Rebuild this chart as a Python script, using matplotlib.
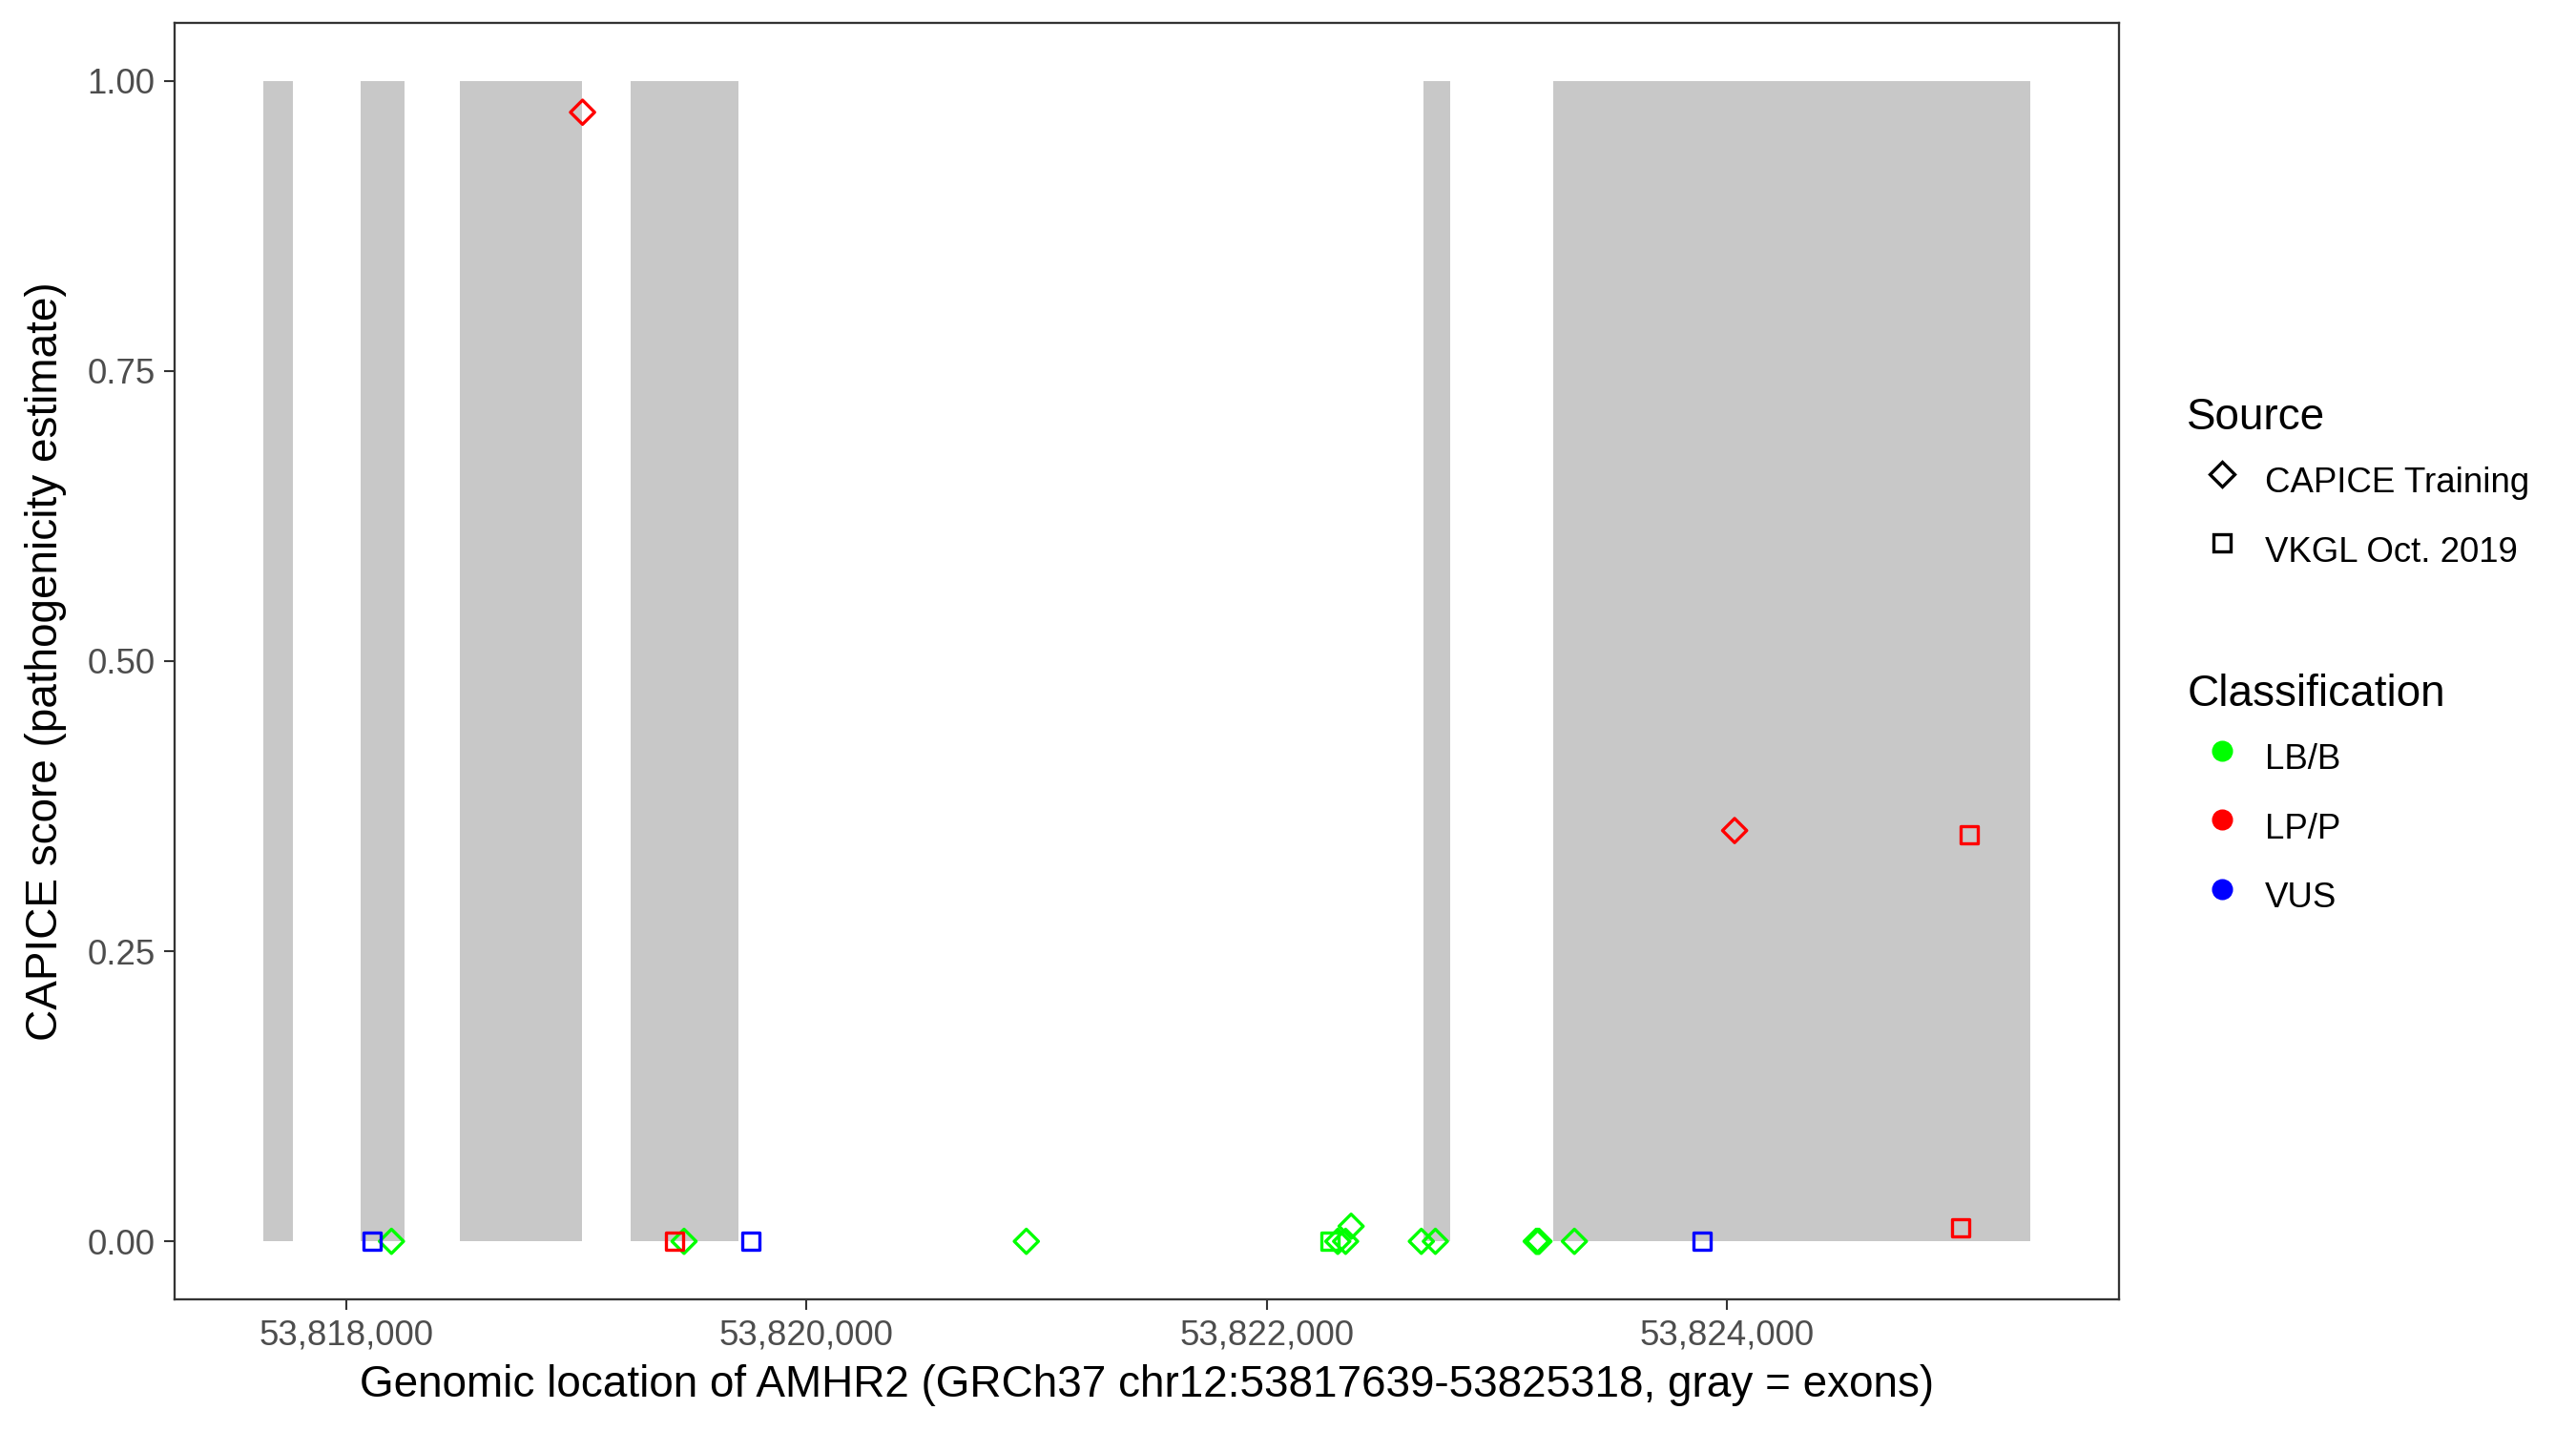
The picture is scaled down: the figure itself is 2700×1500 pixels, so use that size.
# CAPICE scores along AMHR2, exons in gray

import matplotlib.pyplot as plt
from matplotlib.lines import Line2D
from matplotlib.ticker import FuncFormatter

plt.rcParams['font.family'] = ['Liberation Sans', 'DejaVu Sans']

gene_start = 53817639
gene_end = 53825318

exon_start = [53817639, 53818061, 53818494, 53819238, 53822682, 53823243]
exon_end = [53817768, 53818254, 53819026, 53819706, 53822798, 53825318]

# CAPICE training variants (diamonds)
capice_pos = [53819027, 53818197, 53819468, 53820955, 53822308, 53822342, 53822366,
              53822671, 53822732, 53823170, 53823176, 53823182, 53823336, 53824032]
capice_score = [0.973, 0.0, 0.0, 0.0, 0.0, 0.0, 0.013,
                0.0, 0.0, 0.0, 0.0, 0.0, 0.0, 0.354]
capice_class = ['LP/P', 'LB/B', 'LB/B', 'LB/B', 'LB/B', 'LB/B', 'LB/B',
                'LB/B', 'LB/B', 'LB/B', 'LB/B', 'LB/B', 'LB/B', 'LP/P']

# VKGL Oct. 2019 variants (squares)
vkgl_pos = [53818113, 53819426, 53819758, 53822276, 53823891, 53825015, 53825050]
vkgl_score = [0.0, 0.0, 0.0, 0.0, 0.0, 0.012, 0.350]
vkgl_class = ['VUS', 'LP/P', 'VUS', 'LB/B', 'VUS', 'LP/P', 'LP/P']

class_colors = {'LB/B': '#00FF00', 'LP/P': '#FF0000', 'VUS': '#0000FF'}

fig = plt.figure(figsize=(9, 5), dpi=300)
ax = fig.add_axes([0.0678, 0.092, 0.8226 - 0.0678, 0.984 - 0.092])

widths = [e - s for s, e in zip(exon_start, exon_end)]
ax.bar(exon_start, [1] * len(exon_start), width=widths, bottom=0, align='edge',
       color='#C8C8C8', linewidth=0, zorder=1)

ax.scatter(capice_pos, capice_score, marker='D', s=4.3 ** 2, facecolors='none',
           edgecolors=[class_colors[c] for c in capice_class], linewidths=0.8, zorder=3)
ax.scatter(vkgl_pos, vkgl_score, marker='s', s=4.3 ** 2, facecolors='none',
           edgecolors=[class_colors[c] for c in vkgl_class], linewidths=0.8, zorder=3)

span = gene_end - gene_start
ax.set_xlim(gene_start - 0.05 * span, gene_end + 0.05 * span)
ax.set_ylim(-0.05, 1.05)
ax.set_xticks([53818000, 53820000, 53822000, 53824000])
ax.set_yticks([0, 0.25, 0.5, 0.75, 1.0])
ax.xaxis.set_major_formatter(FuncFormatter(lambda v, p: f'{int(v):,}'))
ax.yaxis.set_major_formatter(FuncFormatter(lambda v, p: f'{v:.2f}'))
ax.tick_params(length=2.75, width=0.5, color='#333333', labelsize=8.8,
               labelcolor='#4D4D4D', pad=2.2)
for sp in ax.spines.values():
    sp.set_color('#333333')
    sp.set_linewidth(0.55)

ax.set_xlabel('Genomic location of AMHR2 (GRCh37 chr12:53817639-53825318, gray = exons)',
              fontsize=11, labelpad=3)
ax.set_ylabel('CAPICE score (pathogenicity estimate)', fontsize=11, labelpad=5)

leg_kw = dict(loc='upper left', frameon=False, fontsize=8.8, title_fontsize=11,
              borderpad=0, borderaxespad=0, handlelength=2.0, handleheight=1.94,
              handletextpad=0.22, labelspacing=0.474, alignment='left')

src_handles = [
    Line2D([], [], marker='D', ls='none', mfc='none', mec='black', ms=4.3, mew=0.8),
    Line2D([], [], marker='s', ls='none', mfc='none', mec='black', ms=4.3, mew=0.8),
]
fig.legend(src_handles, ['CAPICE Training', 'VKGL Oct. 2019'], title='Source',
           bbox_to_anchor=(0.849, 0.723), **leg_kw)

cls_handles = [Line2D([], [], marker='o', ls='none', mfc=class_colors[c], mec=class_colors[c],
                      ms=4.3) for c in class_colors]
fig.legend(cls_handles, list(class_colors.keys()), title='Classification',
           bbox_to_anchor=(0.849, 0.5296), **leg_kw)

plt.savefig('out.png', dpi=300)
